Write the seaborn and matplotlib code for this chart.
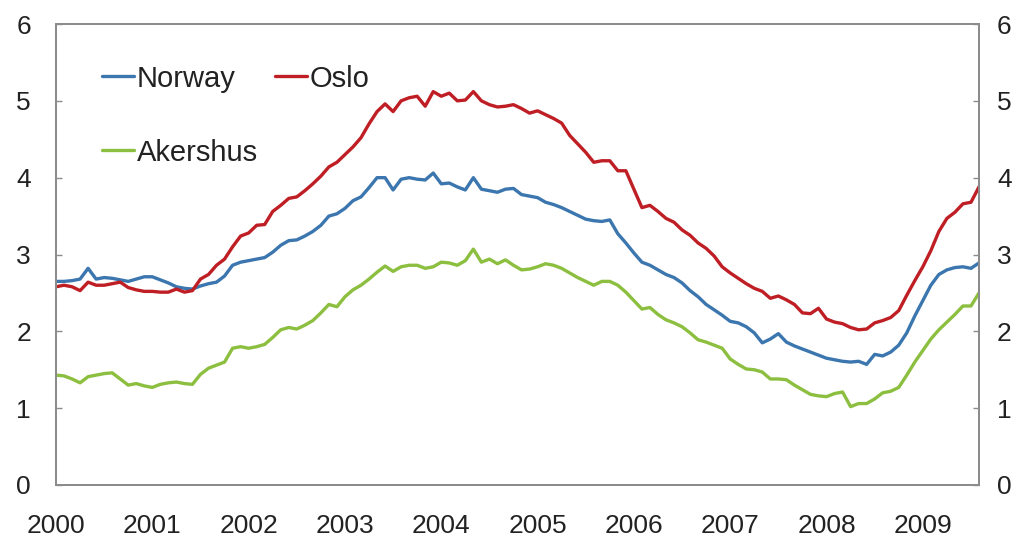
import numpy as np
import pandas as pd
import matplotlib
matplotlib.use("Agg")
import matplotlib.pyplot as plt
import seaborn as sns

# Monthly data, Jan 2000 - Aug 2009
start_year = 2000
norway = [2.65, 2.65, 2.66, 2.68, 2.82, 2.68, 2.70, 2.69, 2.67, 2.65, 2.68, 2.71,
          2.71, 2.67, 2.63, 2.58, 2.56, 2.55, 2.59, 2.62, 2.64, 2.72, 2.86, 2.90,
          2.92, 2.94, 2.96, 3.03, 3.12, 3.18, 3.19, 3.24, 3.30, 3.38, 3.50, 3.53,
          3.60, 3.70, 3.75, 3.87, 4.00, 4.00, 3.84, 3.98, 4.00, 3.98, 3.97, 4.06,
          3.92, 3.93, 3.88, 3.84, 4.00, 3.85, 3.83, 3.81, 3.85, 3.86, 3.78, 3.76,
          3.74, 3.68, 3.65, 3.61, 3.56, 3.51, 3.46, 3.44, 3.43, 3.45, 3.27, 3.15,
          3.02, 2.90, 2.86, 2.80, 2.74, 2.70, 2.63, 2.53, 2.45, 2.35, 2.28, 2.21,
          2.13, 2.11, 2.06, 1.98, 1.85, 1.90, 1.97, 1.86, 1.81, 1.77, 1.73, 1.69,
          1.65, 1.63, 1.61, 1.60, 1.61, 1.57, 1.70, 1.68, 1.73, 1.82, 1.98, 2.20,
          2.40, 2.60, 2.74, 2.80, 2.83, 2.84, 2.82, 2.89]
oslo = [2.58, 2.60, 2.58, 2.53, 2.64, 2.60, 2.60, 2.62, 2.64, 2.57, 2.54, 2.52,
        2.52, 2.51, 2.51, 2.55, 2.51, 2.53, 2.68, 2.74, 2.86, 2.94, 3.10, 3.24,
        3.28, 3.38, 3.39, 3.56, 3.64, 3.73, 3.75, 3.83, 3.92, 4.02, 4.14, 4.20,
        4.30, 4.40, 4.52, 4.70, 4.86, 4.96, 4.86, 5.00, 5.04, 5.06, 4.93, 5.12,
        5.06, 5.10, 5.00, 5.01, 5.12, 5.00, 4.95, 4.92, 4.93, 4.95, 4.90, 4.84,
        4.87, 4.82, 4.77, 4.71, 4.55, 4.44, 4.33, 4.20, 4.22, 4.22, 4.09, 4.09,
        3.85, 3.61, 3.64, 3.56, 3.47, 3.42, 3.32, 3.25, 3.15, 3.08, 2.98, 2.84,
        2.76, 2.69, 2.62, 2.56, 2.52, 2.43, 2.46, 2.41, 2.35, 2.24, 2.23, 2.30,
        2.16, 2.12, 2.10, 2.05, 2.02, 2.03, 2.11, 2.14, 2.18, 2.27, 2.47, 2.66,
        2.84, 3.05, 3.30, 3.47, 3.55, 3.66, 3.68, 3.88]
akershus = [1.43, 1.42, 1.38, 1.33, 1.41, 1.43, 1.45, 1.46, 1.38, 1.30, 1.32, 1.29,
            1.27, 1.31, 1.33, 1.34, 1.32, 1.31, 1.44, 1.52, 1.56, 1.60, 1.78, 1.80,
            1.78, 1.80, 1.83, 1.92, 2.02, 2.05, 2.03, 2.08, 2.14, 2.24, 2.35, 2.32,
            2.45, 2.54, 2.60, 2.68, 2.77, 2.85, 2.78, 2.84, 2.86, 2.86, 2.82, 2.84,
            2.90, 2.89, 2.86, 2.92, 3.07, 2.90, 2.94, 2.88, 2.93, 2.86, 2.80, 2.81,
            2.84, 2.88, 2.86, 2.82, 2.76, 2.70, 2.65, 2.60, 2.65, 2.65, 2.60, 2.51,
            2.40, 2.29, 2.31, 2.22, 2.15, 2.11, 2.06, 1.98, 1.89, 1.86, 1.82, 1.78,
            1.64, 1.57, 1.51, 1.50, 1.47, 1.38, 1.38, 1.37, 1.30, 1.24, 1.18, 1.16,
            1.15, 1.19, 1.21, 1.02, 1.06, 1.06, 1.12, 1.20, 1.22, 1.27, 1.43, 1.60,
            1.75, 1.90, 2.02, 2.12, 2.22, 2.33, 2.33, 2.50]
series_names = ["Norway", "Oslo", "Akershus"]
colors = {"Norway": "#3B76AF", "Oslo": "#BE1E24", "Akershus": "#8CBF3F"}
year_ticks = list(range(2000, 2010))
y_ticks = [0, 1, 2, 3, 4, 5, 6]

n = len(norway)
t = start_year + np.arange(n) / 12.0
df = pd.DataFrame({
    "t": np.concatenate([t, t, t]),
    "value": norway + oslo + akershus,
    "series": ["Norway"] * n + ["Oslo"] * n + ["Akershus"] * n,
})

sns.set_style("white")
plt.rcParams["font.family"] = ["Liberation Sans", "DejaVu Sans"]

fig = plt.figure(figsize=(10.19, 5.42), dpi=100)
ax = fig.add_axes([56 / 1019, 1 - 485 / 542, 923 / 1019, 461 / 542])
sns.lineplot(data=df, x="t", y="value", hue="series", hue_order=series_names,
             palette=colors, linewidth=2.4, ax=ax, legend=False)

ax.set_xlim(t[0], t[-1])
ax.set_ylim(0, 6)
ax.set_xticks(year_ticks)
ax.set_xticklabels([str(y) for y in year_ticks])
ax.set_yticks(y_ticks)
ax.set_xlabel("")
ax.set_ylabel("")

spine_col = "#8C8C8C"
for s in ax.spines.values():
    s.set_color(spine_col)
    s.set_linewidth(1.4)

ax.tick_params(axis="x", direction="in", length=5, color=spine_col, width=1,
               labelsize=19, pad=21, labelcolor="#222222")
ax.tick_params(axis="y", direction="in", length=4, color=spine_col, width=1,
               labelsize=19, pad=18, labelcolor="#222222")

ax2 = ax.twinx()
ax2.set_ylim(0, 6)
ax2.set_yticks(y_ticks)
ax2.tick_params(axis="y", direction="in", length=4, color=spine_col, width=1,
                labelsize=19, pad=13, labelcolor="#222222")
for s in ax2.spines.values():
    s.set_color(spine_col)
    s.set_linewidth(1.4)

handles = [plt.Line2D([], [], color=colors[nm], linewidth=2.4) for nm in ["Norway", "Akershus", "Oslo"]]
ax.legend(handles, ["Norway", "Akershus", "Oslo"], ncol=2, loc="upper left",
          bbox_to_anchor=(0.05, 0.912), frameon=False, fontsize=21,
          handlelength=1.1, handletextpad=0.08, columnspacing=0.6,
          labelspacing=1.58, borderpad=0, borderaxespad=0,
          labelcolor="#222222")

fig.savefig("out.png", dpi=100)
